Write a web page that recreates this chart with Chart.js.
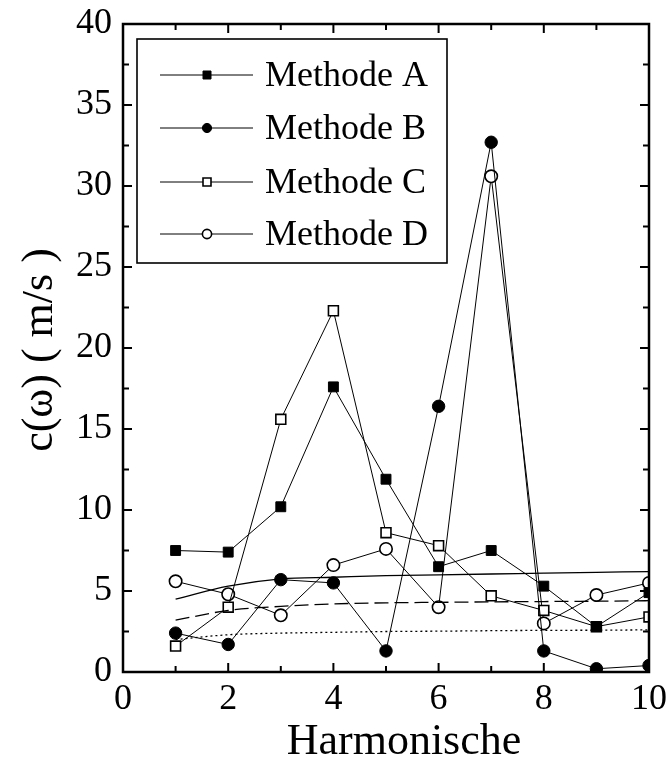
<!DOCTYPE html>
<html><head><meta charset="utf-8">
<script src="https://cdn.jsdelivr.net/npm/chart.js@4/dist/chart.umd.min.js"></script>
<style>html,body{margin:0;padding:0;background:#fff}#wrap{width:669px;height:761px}</style>
</head><body><div id="wrap"><canvas id="c" width="669" height="761"></canvas></div>
<script>
const harmonics = [1,2,3,4,5,6,7,8,9,10];
const methodeA = [7.5,7.4,10.2,17.6,11.9,6.5,7.5,5.3,2.8,4.9];
const methodeB = [2.4,1.7,5.7,5.5,1.3,16.4,32.7,1.3,0.2,0.4];
const methodeC = [1.6,4.0,15.6,22.3,8.6,7.8,4.7,3.8,2.8,3.4];
const methodeD = [5.6,4.8,3.5,6.6,7.6,4.0,30.6,3.0,4.75,5.5];
const curveSolid  = [4.5,5.3,5.75,5.85,5.95,6.0,6.05,6.1,6.15,6.2];
const curveDashed = [3.2,3.8,4.05,4.2,4.27,4.3,4.33,4.35,4.37,4.4];
const curveDotted = [2.0,2.3,2.4,2.45,2.5,2.52,2.55,2.57,2.58,2.6];
const seriesNames = ['Methode A','Methode B','Methode C','Methode D'];
const xTicks = [0,2,4,6,8,10];
const yTicks = [0,5,10,15,20,25,30,35,40];
const xTitle = 'Harmonische';
const yTitle = 'c(ω) ( m/s )';

const FONT = "'Liberation Serif','Times New Roman',serif";
const pts = arr => arr.map((v,i)=>({x:harmonics[i], y:v}));

const markerStyles = [
  {pointStyle:'rect', radius:7, bg:'#000', border:'#000', bw:1},
  {pointStyle:'circle', radius:6.2, bg:'#000', border:'#000', bw:1},
  {pointStyle:'rect', radius:7, bg:'#fff', border:'#000', bw:1.6},
  {pointStyle:'circle', radius:6.2, bg:'#fff', border:'#000', bw:1.6}
];
const seriesData = [methodeA, methodeB, methodeC, methodeD];

const datasets = [];
[[curveSolid,[]],[curveDashed,[14,6]],[curveDotted,[2,3]]].forEach(([d,dash])=>{
  datasets.push({data:pts(d), borderColor:'#000', borderWidth:1.3, borderDash:dash,
    pointRadius:0, showLine:true, cubicInterpolationMode:'monotone', fill:false});
});
seriesData.forEach((d,i)=>{
  const m = markerStyles[i];
  datasets.push({label:seriesNames[i], data:pts(d), borderColor:'#000', borderWidth:1,
    pointStyle:m.pointStyle, pointRadius:m.radius, pointBackgroundColor:m.bg,
    pointBorderColor:m.border, pointBorderWidth:m.bw, showLine:true, tension:0, fill:false});
});

const frameTicks = {
  id:'frameTicks',
  afterDatasetsDraw(chart){
    const ctx = chart.ctx, a = chart.chartArea, xs = chart.scales.x, ys = chart.scales.y;
    ctx.save();
    ctx.strokeStyle = '#000';
    ctx.lineWidth = 2.5;
    ctx.strokeRect(a.left, a.top, a.right-a.left, a.bottom-a.top);
    ctx.lineWidth = 2;
    for (let v=0; v<=10; v+=1){
      const px = xs.getPixelForValue(v);
      const L = (v%2===0)?9:6;
      ctx.beginPath();
      ctx.moveTo(px,a.bottom); ctx.lineTo(px,a.bottom-L);
      ctx.moveTo(px,a.top); ctx.lineTo(px,a.top+L);
      ctx.stroke();
    }
    for (let v=0; v<=40; v+=2.5){
      const py = ys.getPixelForValue(v);
      const L = (v%5===0)?9:6;
      ctx.beginPath();
      ctx.moveTo(a.left,py); ctx.lineTo(a.left+L,py);
      ctx.moveTo(a.right,py); ctx.lineTo(a.right-L,py);
      ctx.stroke();
    }
    // axis titles
    ctx.fillStyle='#000';
    ctx.textAlign='center'; ctx.textBaseline='middle';
    ctx.font = "44px "+FONT;
    ctx.fillText(xTitle, 404, 742);
    ctx.save();
    ctx.translate(40, 350); ctx.rotate(-Math.PI/2);
    ctx.font = "44px "+FONT;
    ctx.fillText(yTitle, 0, 0);
    ctx.restore();
    // legend box
    const bx=137, by=39, bw=310, bh=224;
    ctx.fillStyle='#fff';
    ctx.fillRect(bx,by,bw,bh);
    ctx.lineWidth=1.6;
    ctx.strokeRect(bx,by,bw,bh);
    const rows=[75,128,182,234];
    ctx.font = "36px "+FONT;
    ctx.textBaseline='middle';
    ctx.textAlign='left';
    seriesNames.forEach((name,i)=>{
      const y=rows[i], m=markerStyles[i];
      ctx.strokeStyle='#000';
      ctx.lineWidth=1;
      ctx.beginPath(); ctx.moveTo(160,y); ctx.lineTo(253,y); ctx.stroke();
      ctx.fillStyle=m.bg;
      ctx.beginPath();
      if(m.pointStyle==='rect'){ctx.rect(207-4,y-4,8,8);} else {ctx.arc(207,y,4.6,0,Math.PI*2);}
      ctx.fill(); ctx.lineWidth=m.bw; ctx.stroke();
      ctx.fillStyle='#000';
      ctx.fillText(name, 265, y+2);
    });
    ctx.restore();
  }
};

new Chart(document.getElementById('c'), {
  type:'scatter',
  data:{datasets},
  options:{
    responsive:false, animation:false, devicePixelRatio:1,
    layout:{padding:{top:24, right:20, left:0, bottom:0}},
    plugins:{legend:{display:false}, tooltip:{enabled:false}},
    scales:{
      x:{type:'linear', min:0, max:10,
        afterFit(s){ s.height = 89; s.paddingLeft = 0; s.paddingRight = 0; },
        afterBuildTicks(s){ s.ticks = xTicks.map(v=>({value:v})); },
        grid:{display:false, drawTicks:false}, border:{display:false},
        ticks:{color:'#000', font:{family:FONT, size:36}, padding:6, maxRotation:0},
        title:{display:false}
      },
      y:{type:'linear', min:0, max:40,
        afterFit(s){ s.width = 123; s.paddingTop = 0; s.paddingBottom = 0; },
        afterBuildTicks(s){ s.ticks = yTicks.map(v=>({value:v})); },
        grid:{display:false, drawTicks:false}, border:{display:false},
        ticks:{color:'#000', font:{family:FONT, size:36}, padding:11},
        title:{display:false}
      }
    }
  },
  plugins:[frameTicks]
});
</script></body></html>
